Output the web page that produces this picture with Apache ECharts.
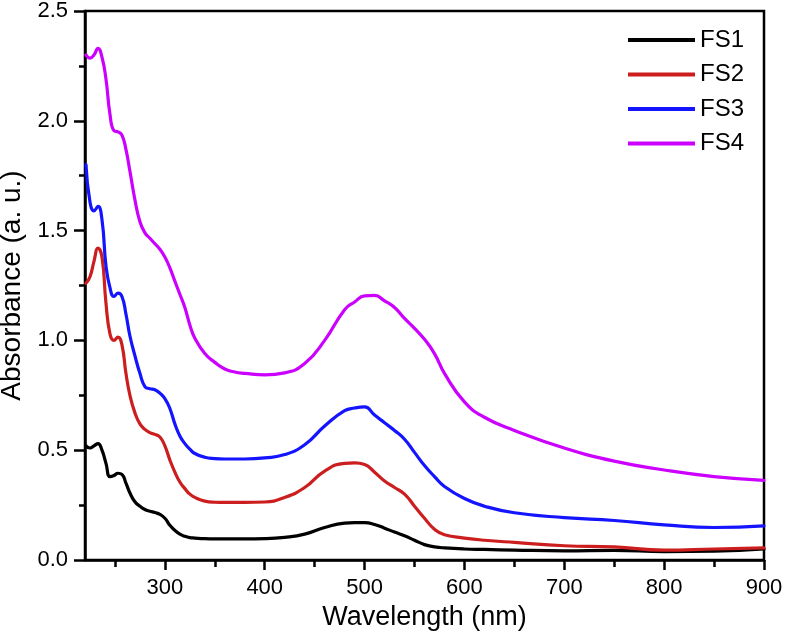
<!DOCTYPE html>
<html>
<head>
<meta charset="utf-8">
<script src="https://cdn.jsdelivr.net/npm/echarts@6/dist/echarts.min.js"></script>
<style>
html,body{margin:0;padding:0;background:#fff;}
#chart{width:787px;height:639px;}
</style>
</head>
<body>
<div id="chart"></div>
<script>
// Wavelength grid (nm)
var wavelength = [221,225,229,233,237,241,245,249,253,257,261,265,270,275,280,285,290,295,300,305,310,315,320,325,330,340,350,360,370,380,400,420,440,460,480,490,500,510,520,530,540,550,560,570,580,600,620,650,700,750,800,850,900];

var seriesNames = ['FS1','FS2','FS3','FS4'];
var seriesColors = ['#000000','#cc1e1e','#1414ff','#cc00ff'];

var fs1 = [0.52,0.51,0.52,0.53,0.50,0.44,0.38,0.385,0.395,0.39,0.35,0.305,0.265,0.245,0.23,0.222,0.216,0.208,0.19,0.158,0.135,0.118,0.108,0.102,0.10,0.097,0.096,0.096,0.096,0.096,0.097,0.103,0.118,0.148,0.168,0.17,0.17,0.162,0.145,0.127,0.11,0.09,0.07,0.06,0.055,0.05,0.048,0.045,0.042,0.044,0.038,0.04,0.05];
var fs2 = [1.26,1.29,1.36,1.42,1.38,1.17,1.03,1.00,1.015,0.98,0.85,0.75,0.67,0.62,0.595,0.58,0.572,0.56,0.52,0.455,0.40,0.355,0.325,0.30,0.285,0.268,0.263,0.262,0.262,0.262,0.264,0.285,0.33,0.405,0.44,0.442,0.435,0.40,0.36,0.33,0.30,0.245,0.19,0.14,0.115,0.10,0.09,0.08,0.065,0.06,0.045,0.05,0.055];
var fs3 = [1.80,1.63,1.59,1.61,1.55,1.34,1.24,1.20,1.215,1.20,1.12,1.02,0.93,0.85,0.79,0.78,0.775,0.76,0.735,0.69,0.62,0.565,0.53,0.505,0.485,0.468,0.462,0.46,0.46,0.46,0.465,0.48,0.525,0.61,0.68,0.692,0.697,0.66,0.625,0.59,0.55,0.49,0.43,0.38,0.335,0.28,0.245,0.215,0.193,0.18,0.16,0.148,0.155];
var fs4 = [2.30,2.285,2.30,2.33,2.29,2.19,2.03,1.955,1.95,1.935,1.87,1.77,1.64,1.54,1.49,1.465,1.44,1.415,1.38,1.33,1.27,1.21,1.15,1.07,1.01,0.94,0.90,0.87,0.856,0.85,0.843,0.852,0.895,1.00,1.14,1.175,1.203,1.205,1.18,1.15,1.10,1.055,1.005,0.94,0.85,0.72,0.65,0.59,0.51,0.45,0.41,0.38,0.363];

var xMajorTicks = [300,400,500,600,700,800,900];
var xMinorTicks = [250,350,450,550,650,750,850];

var allValues = [fs1, fs2, fs3, fs4];
var FONT = "'Liberation Sans', Arial, sans-serif";

var series = allValues.map(function(vals, k){
  return {
    name: seriesNames[k],
    type: 'line',
    xAxisIndex: 0,
    yAxisIndex: 0,
    data: wavelength.map(function(w, i){ return [w, vals[i]]; }),
    symbol: 'none',
    smooth: 0.5,
    lineStyle: {color: seriesColors[k], width: 3.2, join: 'round', cap: 'round'},
    itemStyle: {color: seriesColors[k]},
    emphasis: {disabled: true},
    animation: false
  };
});

var chart = echarts.init(document.getElementById('chart'), null, {renderer: 'canvas'});
chart.setOption({
  animation: false,
  backgroundColor: '#ffffff',
  grid: {
    left: 85, right: 23, top: 11, bottom: 79,
    containLabel: false, outerBoundsMode: 'none',
    show: true, borderColor: '#000', borderWidth: 2.5, backgroundColor: 'transparent'
  },
  legend: {
    orient: 'vertical',
    left: 623, top: 23,
    itemWidth: 67, itemHeight: 14, itemGap: 10.5,
    icon: 'path://M0,0 L100,0 L100,6 L0,6 Z',
    textStyle: {fontFamily: FONT, fontSize: 24, color: '#000', lineHeight: 24},
    data: seriesNames.map(function(n, k){ return {name: n, itemStyle: {color: seriesColors[k]}}; })
  },
  xAxis: [{
    type: 'value', min: 220, max: 900,
    name: 'Wavelength (nm)', nameLocation: 'middle', nameGap: 44,
    nameTextStyle: {fontFamily: FONT, fontSize: 27, color: '#000'},
    axisLine: {show: true, lineStyle: {color: '#000', width: 2.5}},
    axisTick: {show: true, inside: false, length: 10, lineStyle: {color: '#000', width: 2.5}, customValues: xMajorTicks},
    axisLabel: {fontFamily: FONT, fontSize: 22, color: '#000', margin: 17, customValues: xMajorTicks},
    splitLine: {show: false}
  },{
    type: 'value', min: 220, max: 900, position: 'bottom',
    axisLine: {show: false},
    axisTick: {show: true, inside: false, length: 7, lineStyle: {color: '#000', width: 2.5}, customValues: xMinorTicks},
    axisLabel: {show: false},
    splitLine: {show: false}
  }],
  yAxis: {
    type: 'value', min: 0, max: 2.5, interval: 0.5,
    name: 'Absorbance (a. u.)', nameLocation: 'middle', nameGap: 56,
    nameTextStyle: {fontFamily: FONT, fontSize: 28, color: '#000'},
    axisLine: {show: true, lineStyle: {color: '#000', width: 2.5}},
    axisTick: {show: true, inside: false, length: 11, lineStyle: {color: '#000', width: 2.5}},
    minorTick: {show: true, splitNumber: 2, length: 6, lineStyle: {color: '#000', width: 2.5}},
    axisLabel: {fontFamily: FONT, fontSize: 22, color: '#000', margin: 17, formatter: function(v){ return v.toFixed(1); }},
    splitLine: {show: false},
    minorSplitLine: {show: false}
  },
  series: series
});
</script>
</body>
</html>
